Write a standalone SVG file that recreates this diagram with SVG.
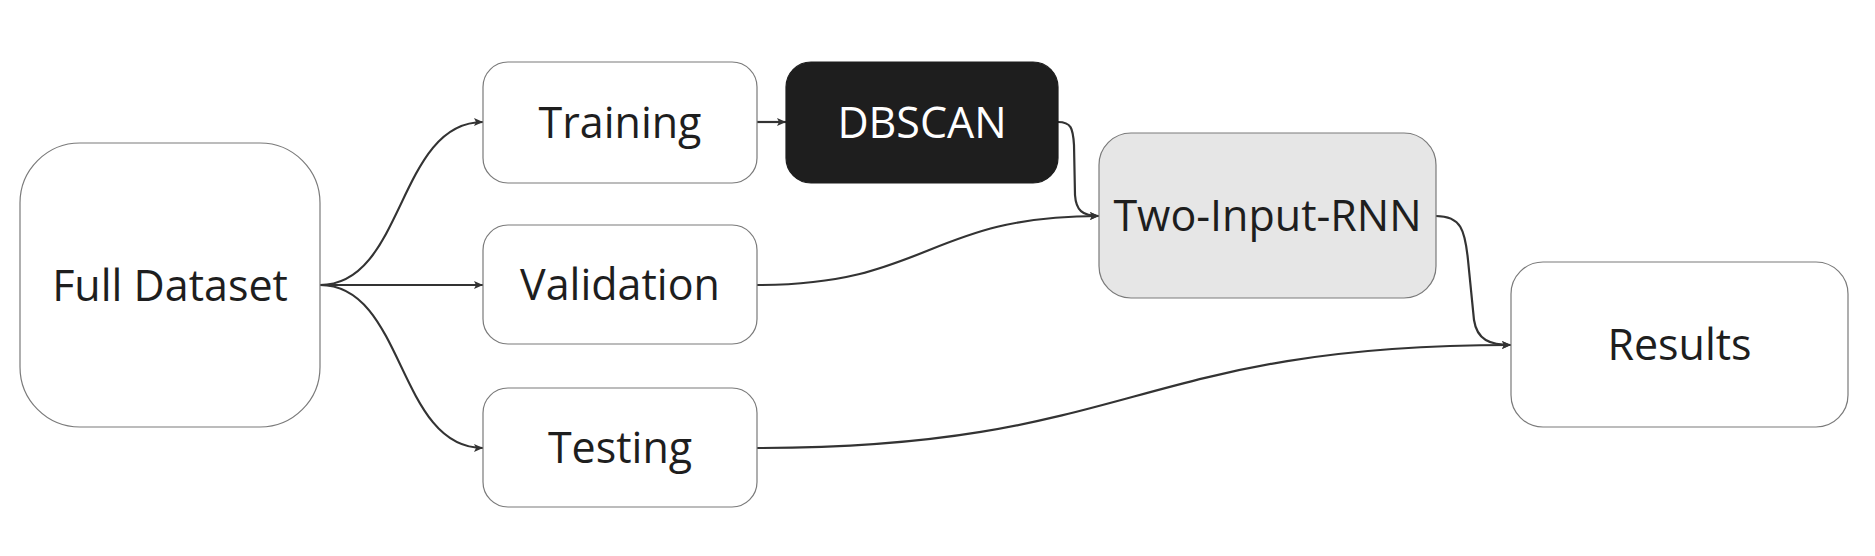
<svg xmlns="http://www.w3.org/2000/svg" width="1875" height="556" viewBox="0 0 1875 556">
<style>
.box{fill:#ffffff;stroke:#7a7a7a;stroke-width:1.2}
.lbl{font-family:"Open Sans","Noto Sans",sans-serif;font-size:43px;fill:#1e1e1e;text-anchor:middle}
.edge{fill:none;stroke:#333333;stroke-width:2.2;marker-end:url(#arr)}
</style>
<defs>
<marker id="arr" markerUnits="userSpaceOnUse" markerWidth="10" markerHeight="10" refX="9" refY="5" orient="auto">
<path d="M0,1 L9,5 L0,9 L2,5 z" fill="#333333"/>
</marker>
</defs>
<rect width="1875" height="556" fill="#ffffff"/>
<g id="connectors">
<path class="edge" d="M320,285 C405,285 397,122 483,122"/>
<path class="edge" d="M320,285 L483,285"/>
<path class="edge" d="M320,285 C405,285 397,448 483,448"/>
<path class="edge" d="M757,122 L786,122"/>
<path class="edge" d="M1058,122 C1071,122 1073,128 1074,145 L1075,195 C1076,210 1082,216 1099,216"/>
<path class="edge" d="M757,285 C928,285 928,216 1099,216"/>
<path class="edge" d="M1436,216 C1461,216 1465,230 1468,260 L1474,320 C1477,340 1490,345 1511,345"/>
<path class="edge" d="M757,448 C1134,448 1134,345 1511,345"/>
</g>
<g id="full-dataset">
<rect class="box" x="20" y="143" width="300" height="284" rx="60" ry="60"/>
<text class="lbl" x="170" y="301">Full Dataset</text>
</g>
<g id="training">
<rect class="box" x="483" y="62" width="274" height="121" rx="25" ry="25"/>
<text class="lbl" x="620" y="138">Training</text>
</g>
<g id="validation">
<rect class="box" x="483" y="225" width="274" height="119" rx="25" ry="25"/>
<text class="lbl" x="620" y="300">Validation</text>
</g>
<g id="testing">
<rect class="box" x="483" y="388" width="274" height="119" rx="25" ry="25"/>
<text class="lbl" x="620" y="463">Testing</text>
</g>
<g id="dbscan">
<rect x="786" y="62" width="272" height="121" rx="25" ry="25" fill="#1e1e1e" stroke="#1e1e1e" stroke-width="1.2"/>
<text class="lbl" x="922" y="138" style="fill:#ffffff">DBSCAN</text>
</g>
<g id="two-input-rnn">
<rect x="1099" y="133" width="337" height="165" rx="32" ry="32" fill="#e6e6e6" stroke="#7a7a7a" stroke-width="1.2"/>
<text class="lbl" x="1267.5" y="231">Two-Input-RNN</text>
</g>
<g id="results">
<rect class="box" x="1511" y="262" width="337" height="165" rx="32" ry="32"/>
<text class="lbl" x="1679.5" y="360">Results</text>
</g>
</svg>
